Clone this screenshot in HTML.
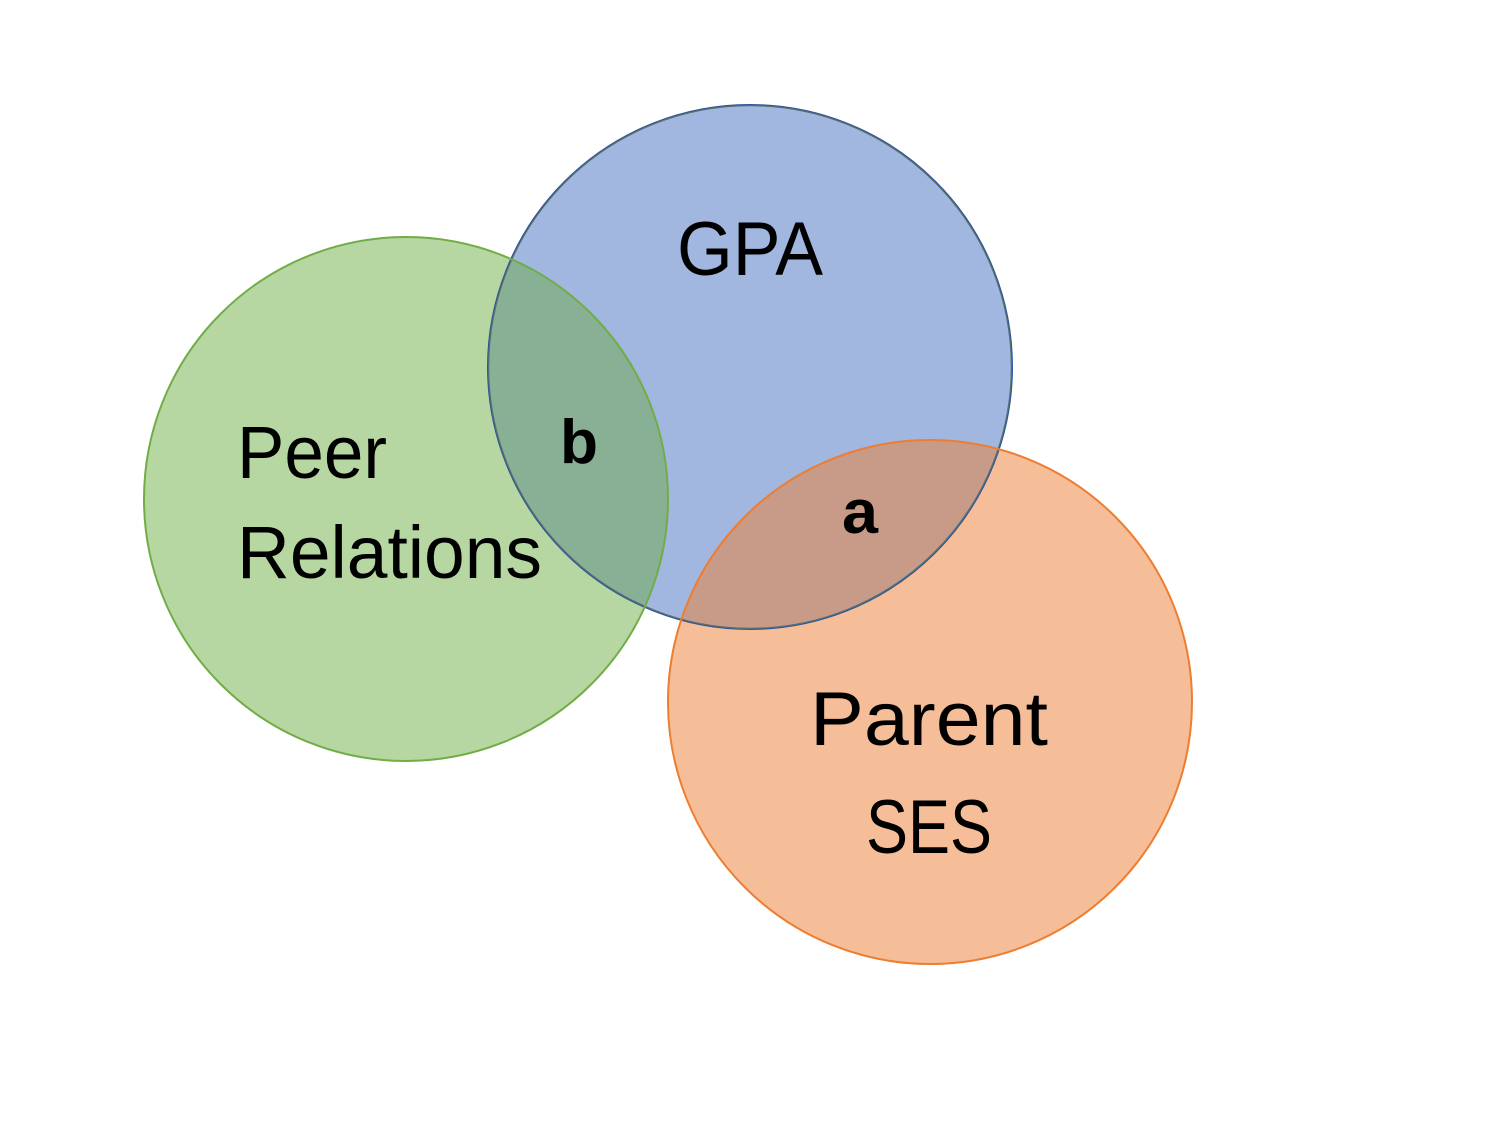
<!DOCTYPE html>
<html><head><style>html,body{margin:0;padding:0;background:#fff}</style></head>
<body>
<svg width="1500" height="1125" viewBox="0 0 1500 1125" xmlns="http://www.w3.org/2000/svg">
<defs>
<clipPath id="cb"><circle cx="750" cy="367" r="262"/></clipPath>
</defs>
<circle cx="750" cy="367" r="262" fill="#a1b7e0"/>
<circle cx="406" cy="499" r="262" fill="#b7d7a2"/>
<circle cx="930" cy="702" r="262" fill="#f5bd98"/>
<g clip-path="url(#cb)">
<circle cx="406" cy="499" r="262" fill="#88b094"/>
<circle cx="930" cy="702" r="262" fill="#c89a88"/>
</g>
<circle cx="750" cy="367" r="262" fill="none" stroke="#2f5597" stroke-width="2"/>
<g clip-path="url(#cb)">
<circle cx="750" cy="367" r="262" fill="none" stroke="#5a7070" stroke-width="2.5"/>
</g>
<circle cx="406" cy="499" r="262" fill="none" stroke="#70ad47" stroke-width="2"/>
<circle cx="930" cy="702" r="262" fill="none" stroke="#ed7d31" stroke-width="2"/>
<g font-family="Liberation Sans, sans-serif" fill="#000">
<text x="677" y="275" font-size="76" textLength="146" lengthAdjust="spacingAndGlyphs">GPA</text>
<text x="237" y="478" font-size="74" textLength="150" lengthAdjust="spacingAndGlyphs">Peer</text>
<text x="237" y="578" font-size="74" textLength="305" lengthAdjust="spacingAndGlyphs">Relations</text>
<text x="560" y="463" font-size="62" font-weight="bold" textLength="38" lengthAdjust="spacingAndGlyphs">b</text>
<text x="842" y="533" font-size="62" font-weight="bold" textLength="36" lengthAdjust="spacingAndGlyphs">a</text>
<text x="810" y="745" font-size="76" textLength="238" lengthAdjust="spacingAndGlyphs">Parent</text>
<text x="866" y="853" font-size="76" textLength="126" lengthAdjust="spacingAndGlyphs">SES</text>
</g>
</svg>
</body></html>
